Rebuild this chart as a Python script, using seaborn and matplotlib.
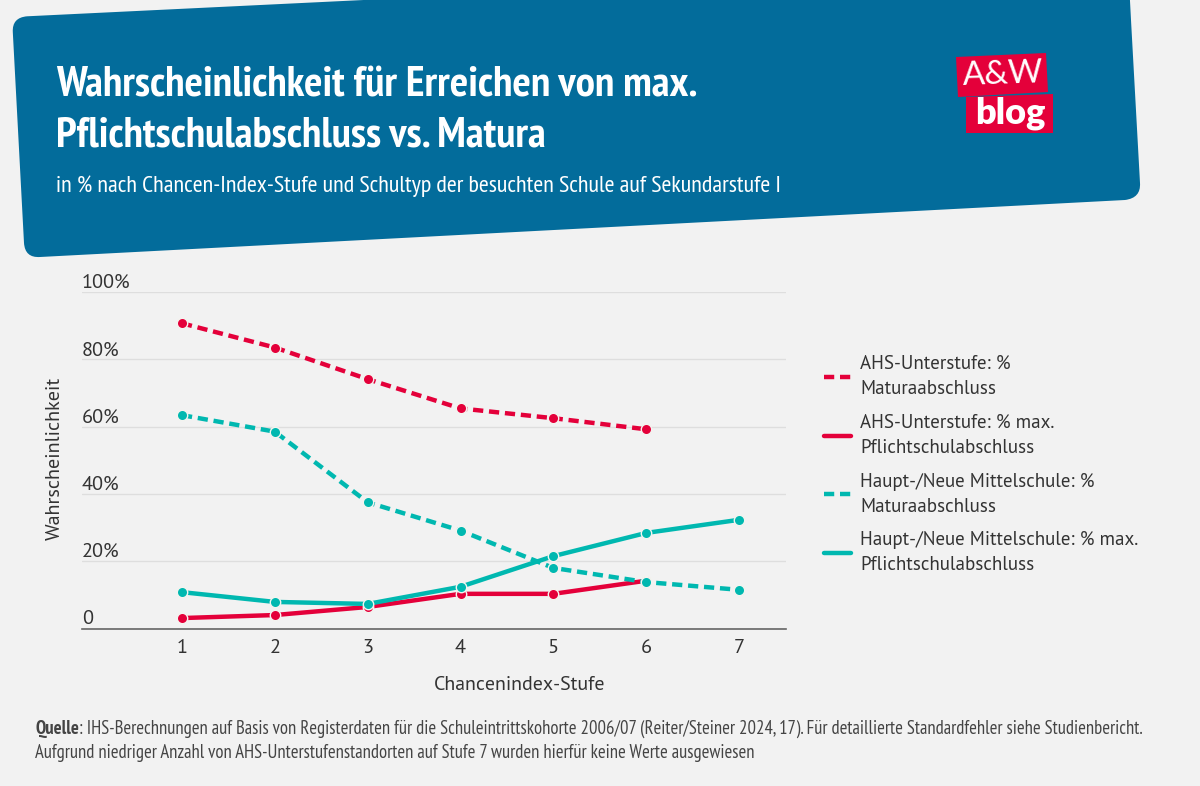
import matplotlib
matplotlib.use("Agg")
import matplotlib.pyplot as plt
import pandas as pd
import seaborn as sns
from matplotlib import font_manager as fm
from matplotlib.lines import Line2D
from matplotlib.patches import PathPatch, Polygon
from matplotlib.path import Path

# values
stufen = [1, 2, 3, 4, 5, 6, 7]
ahs_matura = [90.7, 83.5, 74.1, 65.4, 62.5, 59.2, None]
ahs_pflicht = [3.1, 4.0, 6.4, 10.3, 10.3, 14.2, None]
nms_matura = [63.4, 58.5, 37.5, 29.1, 18.0, 13.8, 11.5]
nms_pflicht = [10.8, 7.9, 7.3, 12.4, 21.5, 28.4, 32.3]
y_ticks = [0, 20, 40, 60, 80, 100]
y_labels = ["0", "20%", "40%", "60%", "80%", "100%"]

BG = "#F2F2F2"
BLUE = "#036C9B"
RED = "#E4003A"
TEAL = "#00B8B0"
TXT = "#333333"

# PT Sans is not always there, Lato runs wider so it needs smaller sizes
installed = {f.name for f in fm.fontManager.ttflist}
has_pt = "PT Sans" in installed and "PT Sans Narrow" in installed
BODY = ["PT Sans", "DejaVu Sans"] if has_pt else ["Lato", "DejaVu Sans"]
HEAD = ["PT Sans Narrow", "DejaVu Sans"] if has_pt else ["Lato", "DejaVu Sans"]
body_k = 1.0 if has_pt else 0.9
head_k = 1.0 if has_pt else 0.85

sns.set_theme(style="white")
plt.rcParams["font.family"] = BODY

W, H = 1200, 786
fig = plt.figure(figsize=(12, 7.86), dpi=100, facecolor=BG)

# pixel canvas for banner, logo and free text
bg = fig.add_axes([0, 0, 1, 1], zorder=0)
bg.set_xlim(0, W)
bg.set_ylim(H, 0)
bg.axis("off")

verts = [(12.8, 32), (12, 17.6), (27, 16.3), (1128, -37), (1131, 20), (1140, 183), (1141, 198),
         (1125, 200), (40, 257), (25, 258), (24, 243), (12.8, 32)]
codes = [Path.MOVETO, Path.CURVE3, Path.CURVE3, Path.LINETO, Path.LINETO, Path.LINETO, Path.CURVE3,
         Path.CURVE3, Path.LINETO, Path.CURVE3, Path.CURVE3, Path.CLOSEPOLY]
bg.add_patch(PathPatch(Path(verts, codes), fc=BLUE, ec="none"))

# logo
bg.add_patch(Polygon([(956, 57), (1046, 53), (1048, 92), (958, 97)], fc=RED, ec="none"))
bg.add_patch(Polygon([(966, 97), (1053, 94), (1053, 133), (966, 133)], fc=RED, ec="none"))
bg.text(1003, 75, "A&W", color="white", fontsize=24, ha="center", va="center", rotation=2,
        family=["Lato", "DejaVu Sans"])
bg.text(1010, 113, "blog", color="white", fontsize=26, fontweight="heavy", ha="center", va="center",
        family=["Lato", "DejaVu Sans"])

bg.text(56, 86, "Wahrscheinlichkeit für Erreichen von max.", color="white", fontsize=31.05 * head_k,
        fontweight="bold", va="center", family=HEAD)
bg.text(56, 136, "Pflichtschulabschluss vs. Matura", color="white", fontsize=31.05 * head_k,
        fontweight="bold", va="center", family=HEAD)
bg.text(56, 186, "in % nach Chancen-Index-Stufe und Schultyp der besuchten Schule auf Sekundarstufe I",
        color="white", fontsize=17.35 * head_k, va="center", family=HEAD)

# main chart
ax = fig.add_axes([82 / W, 1 - 628.5 / H, 704 / W, 336.5 / H], zorder=1)
ax.patch.set_alpha(0)

series = [
    ("AHS-Unterstufe: %\nMaturaabschluss", ahs_matura, RED, (2.3, 1.3)),
    ("AHS-Unterstufe: % max.\nPflichtschulabschluss", ahs_pflicht, RED, None),
    ("Haupt-/Neue Mittelschule: %\nMaturaabschluss", nms_matura, TEAL, (2.3, 1.3)),
    ("Haupt-/Neue Mittelschule: % max.\nPflichtschulabschluss", nms_pflicht, TEAL, None),
]

handles = []
for name, values, col, dash in series:
    df = pd.DataFrame({"stufe": stufen, "wert": values}).dropna()
    line = sns.lineplot(data=df, x="stufe", y="wert", ax=ax, color=col, linewidth=3.2,
                        marker="o", markersize=7.5, markeredgecolor="#F4F4F0", markeredgewidth=1,
                        clip_on=False, legend=False).lines[-1]
    if dash:
        line.set_linestyle((0, dash))
    handles.append(Line2D([], [], color=col, linewidth=3.2,
                          linestyle=(0, dash) if dash else "-"))

ax.set_xlim(1 - 100 / 92.83, 7 + 47 / 92.83)
ax.set_ylim(0, 100)
ax.set_xticks(stufen)
ax.set_yticks(y_ticks)
ax.set_yticklabels(y_labels, ha="left", va="bottom")
ax.tick_params(axis="y", length=0, pad=0, labelsize=14.6 * body_k, labelcolor=TXT)
ax.tick_params(axis="x", length=0, pad=7.5, labelsize=14.6 * body_k, labelcolor=TXT)
ax.grid(axis="y", color="#DEDEDE", linewidth=1)
ax.set_axisbelow(True)
for s in ["top", "left", "right"]:
    ax.spines[s].set_visible(False)
ax.spines["bottom"].set_color("#666666")
ax.spines["bottom"].set_linewidth(1.2)

ax.set_xlabel("Chancenindex-Stufe", fontsize=14.3 * body_k, color=TXT)
ax.set_ylabel("Wahrscheinlichkeit", fontsize=14.5 * body_k, color=TXT)
ax.xaxis.set_label_coords((520 - 82) / 704, -(684 - 628.5 - 8) / 336.5)
ax.yaxis.set_label_coords((64 - 82) / 704, 0.505)

leg = ax.legend(handles, [s[0] for s in series], loc="upper left", frameon=False,
                bbox_to_anchor=((824 - 82) / 704, (628.5 - 355) / 336.5), fontsize=13.7 * body_k,
                labelcolor=TXT, handlelength=1.42, handletextpad=0.47, labelspacing=0.83,
                borderpad=0, borderaxespad=0)
for t in leg.get_texts():
    t.set_linespacing(1.5)

# footer, bold lead-in followed by the rest of the line
foot_size = 13.45 * head_k
lead = bg.text(35, 729, "Quelle", color="#444444", fontsize=foot_size, fontweight="bold", va="center",
               family=HEAD)
fig.canvas.draw()
end_x = lead.get_window_extent().x1
bg.text(end_x, 729, ": IHS-Berechnungen auf Basis von Registerdaten für die Schuleintrittskohorte 2006/07 "
        "(Reiter/Steiner 2024, 17). Für detaillierte Standardfehler siehe Studienbericht.",
        color="#444444", fontsize=foot_size, va="center", family=HEAD)
bg.text(35, 753, "Aufgrund niedriger Anzahl von AHS-Unterstufenstandorten auf Stufe 7 wurden hierfür "
        "keine Werte ausgewiesen", color="#444444", fontsize=foot_size, va="center", family=HEAD)

fig.savefig("out.png", dpi=100, facecolor=BG)
